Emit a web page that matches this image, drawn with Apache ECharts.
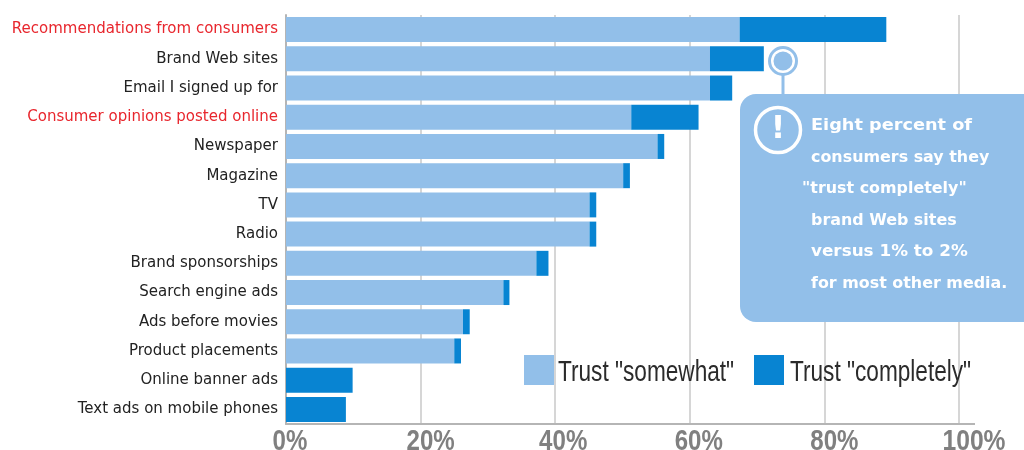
<!DOCTYPE html>
<html>
<head>
<meta charset="utf-8">
<style>html,body{margin:0;padding:0;background:#fff}#chart{width:1024px;height:450px}</style>
<script src="https://cdn.jsdelivr.net/npm/echarts@6/dist/echarts.min.js"></script>
</head>
<body>
<div id="chart"></div>
<script>
// Media sources, ordered from most to least trusted
const categories = [
  'Recommendations from consumers', 'Brand Web sites', 'Email I signed up for',
  'Consumer opinions posted online', 'Newspaper', 'Magazine', 'TV', 'Radio',
  'Brand sponsorships', 'Search engine ads', 'Ads before movies',
  'Product placements', 'Online banner ads', 'Text ads on mobile phones'
];
const highlighted = ['Recommendations from consumers', 'Consumer opinions posted online'];
const trustSomewhat = [67.4, 63, 63, 51.3, 55.2, 50.1, 45.1, 45.1, 37.2, 32.3, 26.3, 25, 0, 0];
const trustCompletely = [21.8, 8, 3.3, 10, 1, 1, 1, 1, 1.8, 0.9, 1, 1, 9.9, 8.9];
const seriesNames = ['Trust "somewhat"', 'Trust "completely"'];
const xTicks = [0, 20, 40, 60, 80, 100];
const calloutLines = [
  ['Eight percent of', 811, 126, 1.18],
  ['consumers say they', 811, 158, 1.06],
  ['"trust completely"', 802, 189, 1.06],
  ['brand Web sites', 811, 221, 1.06],
  ['versus 1% to 2%', 811, 252, 1.12],
  ['for most other media.', 811, 284, 1.06]
];

const LIGHT = '#92bfe9';
const DARK = '#0884d2';
const GRID = '#c9c9c9';
const AXIS = '#b5b5b5';
// tick labels sit to the right of their gridlines
const TICK_SHIFT = [4, 10, 8, 9, 10, 15];

const chart = echarts.init(document.getElementById('chart'), null, { renderer: 'canvas' });

const bar = (name, data, color) => ({
  name, data, type: 'bar', stack: 'trust', barWidth: 25,
  itemStyle: { color }, silent: true
});

chart.setOption({
  animation: false,
  backgroundColor: '#fff',
  grid: { left: 286, top: 15, width: 673, height: 409, outerBoundsMode: 'none' },
  legend: {
    left: 524, top: 355, itemWidth: 30, itemHeight: 30, itemGap: 200, padding: 0,
    icon: 'rect', selectedMode: false, data: seriesNames,
    formatter: () => ''
  },
  xAxis: {
    type: 'value', min: 0, max: 100, interval: 20,
    axisLine: { show: true, onZero: false, lineStyle: { color: AXIS, width: 2 } },
    axisTick: { show: false },
    axisLabel: { show: false },
    splitLine: { show: true, lineStyle: { color: GRID, width: 1.5 } }
  },
  yAxis: {
    type: 'category', inverse: true, data: categories, offset: 3,
    axisLine: { show: true, lineStyle: { color: AXIS, width: 2 } },
    axisTick: { show: false },
    axisLabel: {
      margin: 5, interval: 0, fontFamily: '"DejaVu Sans"', fontSize: 15, padding: [5, 0, 0, 0],
      color: v => highlighted.includes(v) ? '#e8262d' : '#222222'
    }
  },
  series: [
    bar(seriesNames[0], trustSomewhat, LIGHT),
    bar(seriesNames[1], trustCompletely, DARK)
  ]
});

// Condensed text has no installed face, so tick and legend labels are squeezed horizontally
const squeezed = (text, x, y, font, fill, scaleX, align) => ({
  type: 'text', z: 10, x, y, scaleX,
  style: { x: 0, y: 0, text, font, fill, align, verticalAlign: 'middle' }
});
const xLabels = xTicks.map((t, i) => squeezed(
  t + '%',
  chart.convertToPixel({ xAxisIndex: 0 }, t) + TICK_SHIFT[i],
  442, 'bold 29px "Liberation Sans"', '#808080', t === 100 ? 0.85 : 0.83, 'center'
));

chart.setOption({
  graphic: [
    // baseline runs a little past the last gridline
    { type: 'line', z: 5, shape: { x1: 959, y1: 424, x2: 975, y2: 424 }, style: { stroke: AXIS, lineWidth: 2 } },
    ...xLabels,
    squeezed(seriesNames[0], 558, 373, '29px "Liberation Sans"', '#2b2b2b', 0.78, 'left'),
    squeezed(seriesNames[1], 790, 373, '29px "Liberation Sans"', '#2b2b2b', 0.78, 'left'),
    // pin marking the Brand Web sites bar
    { type: 'line', z: 20, shape: { x1: 783, y1: 74, x2: 783, y2: 96 }, style: { stroke: LIGHT, lineWidth: 3 } },
    { type: 'circle', z: 20, shape: { cx: 783, cy: 61, r: 13.5 }, style: { fill: '#fff', stroke: LIGHT, lineWidth: 3 } },
    { type: 'circle', z: 20, shape: { cx: 783, cy: 61, r: 9.5 }, style: { fill: LIGHT } },
    // callout box
    { type: 'rect', z: 20, shape: { x: 740, y: 94, width: 300, height: 228, r: 16 }, style: { fill: LIGHT } },
    { type: 'circle', z: 21, shape: { cx: 778, cy: 130, r: 22.5 }, style: { fill: 'none', stroke: '#fff', lineWidth: 3.5 } },
    { type: 'text', z: 21, style: { x: 778, y: 130, text: '!', fill: '#fff', align: 'center', verticalAlign: 'middle', font: 'bold 32px "DejaVu Sans"' } },
    ...calloutLines.map(([text, x, y, scaleX]) => ({
      type: 'text', z: 21, x, y, scaleX,
      style: { x: 0, y: 0, text, fill: '#fff', align: 'left', verticalAlign: 'middle', font: 'bold 15px "DejaVu Sans"' }
    }))
  ]
});
</script>
</body>
</html>
